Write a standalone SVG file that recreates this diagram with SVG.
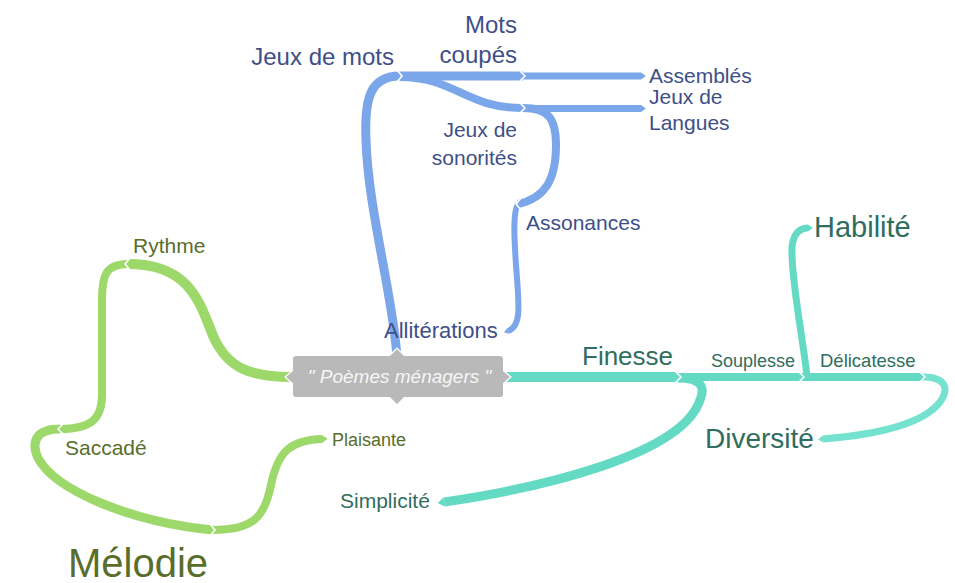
<svg xmlns="http://www.w3.org/2000/svg" width="955" height="583" viewBox="0 0 955 583">
<style>
  text { font-family: "Liberation Sans", Arial, sans-serif; }
  .b { fill: #3e4f88; }
  .g { fill: #5a6d2b; }
  .t { fill: #2f6d60; }
  .cb { fill: none; stroke: #7ba7ea; stroke-linecap: butt; }
  .cg { fill: none; stroke: #9dd86b; stroke-linecap: butt; }
  .ct { fill: none; stroke: #64dac5; stroke-linecap: butt; }
  .ct2 { fill: none; stroke: #74e2cf; stroke-linecap: butt; }
  .sep { fill: none; stroke: #ffffff; stroke-width: 1.6; }
</style>
<defs>
  <marker id="tipB" markerUnits="strokeWidth" viewBox="0 -0.5 0.7 1" refX="0" refY="0" markerWidth="0.7" markerHeight="1" orient="auto" overflow="visible"><path d="M0,-0.5 L0.7,0 L0,0.5 z" fill="#7ba7ea"/></marker>
  <marker id="tipG" markerUnits="strokeWidth" viewBox="0 -0.5 0.7 1" refX="0" refY="0" markerWidth="0.7" markerHeight="1" orient="auto" overflow="visible"><path d="M0,-0.5 L0.7,0 L0,0.5 z" fill="#9dd86b"/></marker>
  <marker id="tipT" markerUnits="strokeWidth" viewBox="0 -0.5 0.7 1" refX="0" refY="0" markerWidth="0.7" markerHeight="1" orient="auto" overflow="visible"><path d="M0,-0.5 L0.7,0 L0,0.5 z" fill="#64dac5"/></marker>
  <marker id="tipT2" markerUnits="strokeWidth" viewBox="0 -0.5 0.7 1" refX="0" refY="0" markerWidth="0.7" markerHeight="1" orient="auto" overflow="visible"><path d="M0,-0.5 L0.7,0 L0,0.5 z" fill="#74e2cf"/></marker>
</defs>
<rect width="955" height="583" fill="#ffffff"/>

<g id="connectors">
  <!-- blue -->
  <path class="cb" stroke-width="9" d="M397,358 C394,300 368,210 366,140 C364,95 372,76 400,76"/>
  <path class="cb" stroke-width="8" d="M400,77 C455,77 465,108 523,108"/>
  <path class="cb" stroke-width="9" d="M400,76 L523,76"/>
  <path class="cb" stroke-width="7" d="M523,76 L641,76" marker-end="url(#tipB)"/>
  <path class="cb" stroke-width="7" d="M523,108.5 L641,108.5" marker-end="url(#tipB)"/>
  <path class="cb" stroke-width="8" d="M523,108 C548,108 556,118 556,145 C556,180 545,198 518,204"/>
  <path class="cb" stroke-width="6" d="M518,204 C513,212 514,235 516,265 C519,305 522,326 508,331" marker-end="url(#tipB)"/>
  <!-- green -->
  <path class="cg" stroke-width="10" d="M292,377 C250,377 228,368 214,338 C200,305 192,264 128,264"/>
  <path class="cg" stroke-width="8" d="M128,264 C106,264 102,275 102,300 L102,395 C102,418 92,429 60,429"/>
  <path class="cg" stroke-width="9" d="M60,429 C38,429 30,440 38,458 C55,490 130,522 213,530"/>
  <path class="cg" stroke-width="8" d="M213,530 C255,530 265,515 271,485 C278,450 292,440 322,439" marker-end="url(#tipG)"/>
  <!-- teal -->
  <path class="ct" stroke-width="9" d="M678,378 C700,378 706,386 700,400 C682,455 540,488 444,502" marker-end="url(#tipT)"/>
  <path class="ct" stroke-width="10" d="M505,377 L678,377"/>
  <path class="ct" stroke-width="7" d="M807,376 C803,340 793,290 792,255 C791,236 798,228 808,228" marker-end="url(#tipT)"/>
  <path class="ct" stroke-width="8" d="M678,377 L802,377"/>
  <path class="ct2" stroke-width="7" d="M923,377 C945,377 950,388 940,402 C920,428 860,436 823,439" marker-end="url(#tipT2)"/>
  <path class="ct" stroke-width="8" d="M802,377 L923,377"/>
  <!-- junction notches -->
  <polyline class="sep" points="397,70 402,76 397,82"/>
  <polyline class="sep" points="520,71 525,76 520,81"/>
  <polyline class="sep" points="520,103 525,108 520,113"/>
  <polyline class="sep" points="521,198 516,204 521,210"/>
  <polyline class="sep" points="130,258 125,264 130,270"/>
  <polyline class="sep" points="63,424 58,429 63,434"/>
  <polyline class="sep" points="210,524 215,530 210,536"/>
  <polyline class="sep" points="675,371 681,377 675,383"/>
  <polyline class="sep" points="799,372 804,377 799,382"/>
  <polyline class="sep" points="920,372 925,377 920,382"/>
</g>

<g id="node-root">
  <path d="M296,356 H390 L397,349 L404,356 H500 Q503,356 503,359 V371 L510,377 L503,383 V394 Q503,397 500,397 H404 L397,404 L390,397 H296 Q293,397 293,394 V383 L286,377 L293,371 V359 Q293,356 296,356 Z" fill="#b9b9b9" stroke="#ffffff" stroke-width="2.5" paint-order="stroke"/>
  <text x="399.5" y="383" font-size="19" font-style="italic" fill="#f6f6f6" text-anchor="middle">" Poèmes ménagers "</text>
</g>

<g id="node-jeux-de-mots"><text class="b" x="394" y="65" font-size="24" text-anchor="end">Jeux de mots</text></g>
<g id="node-mots-coupes"><text class="b" font-size="24" text-anchor="end"><tspan x="517" y="33">Mots</tspan><tspan x="517" y="63">coupés</tspan></text></g>
<g id="node-assembles"><text class="b" x="649" y="83" font-size="21">Assemblés</text></g>
<g id="node-jeux-de-langues"><text class="b" font-size="21"><tspan x="649" y="104">Jeux de</tspan><tspan x="649" y="130">Langues</tspan></text></g>
<g id="node-jeux-de-sonorites"><text class="b" font-size="21" text-anchor="end"><tspan x="517" y="137">Jeux de</tspan><tspan x="517" y="165">sonorités</tspan></text></g>
<g id="node-assonances"><text class="b" x="526" y="230" font-size="21">Assonances</text></g>
<g id="node-alliterations"><text class="b" x="384" y="338" font-size="22">Allitérations</text></g>

<g id="node-rythme"><text class="g" x="133" y="253" font-size="21">Rythme</text></g>
<g id="node-saccade"><text class="g" x="65" y="455" font-size="21">Saccadé</text></g>
<g id="node-melodie"><text class="g" x="68" y="577" font-size="40">Mélodie</text></g>
<g id="node-plaisante"><text class="g" x="332" y="446" font-size="18">Plaisante</text></g>

<g id="node-finesse"><text class="t" x="582" y="365" font-size="26">Finesse</text></g>
<g id="node-simplicite"><text class="t" x="340" y="508" font-size="21">Simplicité</text></g>
<g id="node-souplesse"><text class="t" x="711" y="367" font-size="18">Souplesse</text></g>
<g id="node-delicatesse"><text class="t" x="820" y="367" font-size="18.5">Délicatesse</text></g>
<g id="node-habilite"><text class="t" x="814" y="237" font-size="29">Habilité</text></g>
<g id="node-diversite"><text class="t" x="705" y="448" font-size="28">Diversité</text></g>
</svg>
